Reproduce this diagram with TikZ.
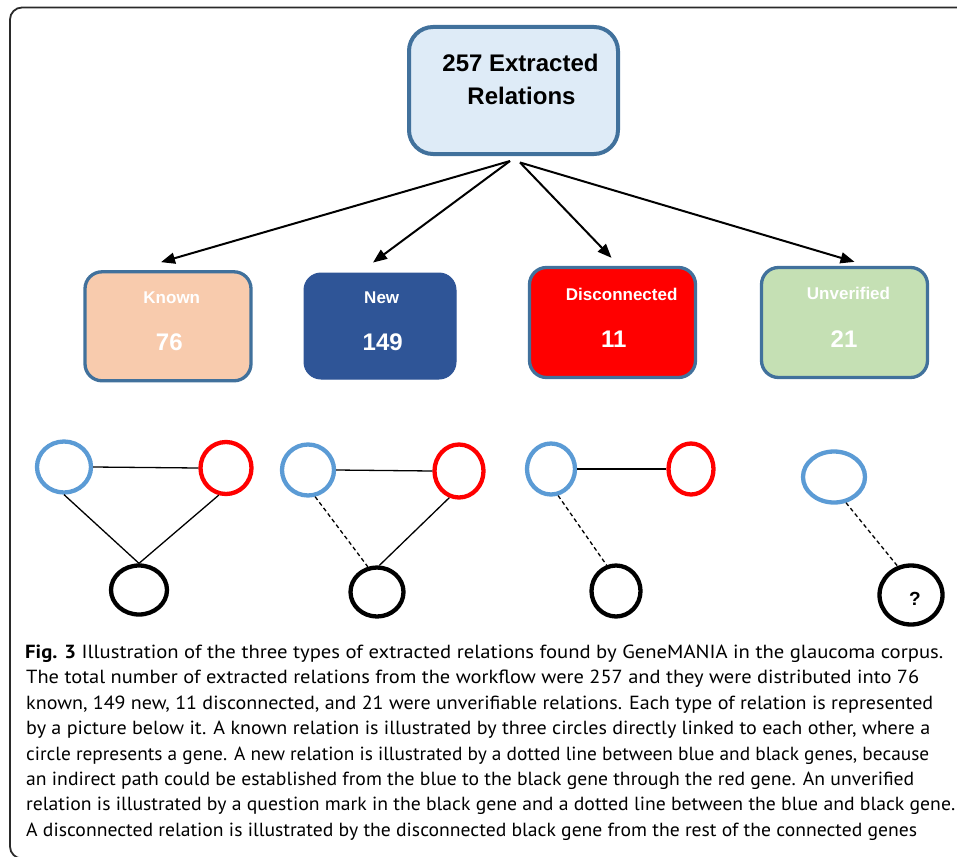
\documentclass[tikz,border=0pt]{standalone}
\usepackage{fontspec}
\setmainfont{Liberation Sans}
\newfontfamily\capfont{PT Sans}
\usetikzlibrary{arrows.meta,shapes.geometric,calc}
\definecolor{boxedge}{HTML}{41719C}
\definecolor{topfill}{HTML}{DEEBF7}
\definecolor{knownfill}{HTML}{F8CBAD}
\definecolor{newfill}{HTML}{2F5597}
\definecolor{unvfill}{HTML}{C5E0B4}
\definecolor{geneblue}{HTML}{5B9BD5}
\definecolor{genered}{HTML}{FF0000}
\definecolor{framecol}{HTML}{2A2A2A}
\tikzset{
  framebox/.style={draw=framecol,line width=1.8pt,rounded corners=12pt},
  bigbox/.style={draw=boxedge,line width=4pt,fill=topfill,rounded corners=24pt,
    minimum width=209pt,minimum height=127pt,inner sep=0pt},
  catbox/.style={draw=boxedge,line width=3.3pt,rounded corners=17pt,
    minimum width=166pt,minimum height=109pt,inner sep=0pt},
  toptext/.style={anchor=base,inner sep=0pt,font=\bfseries\fontsize{24}{28}\selectfont},
  cattext/.style={anchor=base,inner sep=0pt,text=white,font=\bfseries\fontsize{17}{20}\selectfont},
  numtext/.style={anchor=base,inner sep=0pt,text=white,font=\bfseries\fontsize{24}{28}\selectfont},
  arr/.style={line width=2pt,-{Triangle[length=14pt,width=11pt]}},
  gene/.style={ellipse,draw,line width=4.3pt,inner sep=0pt},
  link/.style={line width=1.3pt},
  dlink/.style={line width=1.3pt,dash pattern=on 4pt off 3pt},
  capl/.style={anchor=base west,inner sep=0pt,font=\capfont\fontsize{19}{22}\selectfont},
}
\begin{document}
\begin{tikzpicture}[x=1pt,y=-1pt]
\useasboundingbox (0,0) rectangle (957,856);
\begin{scope}
  \clip (0,0) rectangle (957,856);
  \draw[framebox] (10,7.5) rectangle (990,858.5);
\end{scope}

% top box
\node[bigbox] (top) at (513.5,90.5) {};
\node[toptext] (t1) at (520.5,72) {257 Extracted};
\node[toptext] (t2) at (521.5,105) {Relations};

% category boxes
\node[catbox,fill=knownfill] (known) at (168,326.3) {};
\node[catbox,fill=newfill,draw=newfill,line width=1pt,minimum width=152pt,minimum height=106pt] (new) at (380,326) {};
\node[catbox,fill=genered,minimum height=110pt] (disc) at (612.5,322.5) {};
\node[catbox,fill=unvfill,minimum height=110pt] (unv) at (844.5,322.5) {};

\node[cattext] (knownl) at (171.8,303) {Known};
\node[numtext] (knownn) at (169.3,350.7) {76};
\node[cattext] (newl) at (381.7,303) {New};
\node[numtext] (newn) at (382.7,350.7) {149};
\node[cattext] (discl) at (621.7,300) {Disconnected};
\node[numtext] (discn) at (613.8,347.3) {11};
\node[cattext] (unvl) at (848.5,299.5) {Unverified};
\node[numtext] (unvn) at (844,347) {21};

% arrows
\coordinate (apexL) at (510,161);
\coordinate (apexR) at (520,162.5);
\draw[arr] (apexL) -- ($(known.north)+(-7,-8)$);
\draw[arr] (apexL) -- ($(new.north)+(-7,-10)$);
\draw[arr] (apexR) -- ($(disc.north)+(-1,-8)$);
\draw[arr] (apexR) -- ($(unv.north)+(10,-4)$);

% group 1: known
\node[gene,draw=geneblue,minimum width=54pt,minimum height=51pt] (b1) at (64,467) {};
\node[gene,draw=genered,minimum width=51pt,minimum height=52pt] (r1) at (226,468) {};
\node[gene,draw=black,minimum width=56pt,minimum height=49pt] (k1) at (139,590) {};
\draw[link] (b1.east) -- (r1.west);
\draw[link] (b1.south) -- (k1.north);
\draw[link] (r1.-105) -- (k1.north);

% group 2: new
\node[gene,draw=geneblue,minimum width=52pt,minimum height=51pt] (b2) at (308,470) {};
\node[gene,draw=genered,minimum width=49pt,minimum height=53pt] (r2) at (459,471) {};
\node[gene,draw=black,minimum width=53pt,minimum height=49pt] (k2) at (377,592) {};
\draw[link] (b2.east) -- (r2.west);
\draw[dlink] (b2.-75) -- (k2.110);
\draw[link] (r2.-110) -- (k2.85);

% group 3: disconnected
\node[gene,draw=geneblue,minimum width=48pt,minimum height=51pt] (b3) at (551,469) {};
\node[gene,draw=genered,minimum width=45pt,minimum height=51pt] (r3) at (691,469) {};
\node[gene,draw=black,minimum width=49pt,minimum height=51pt] (k3) at (616,591) {};
\draw[link] (b3.east) -- (r3.west);
\draw[dlink] (b3.-75) -- (k3.110);

% group 4: unverified
\node[gene,draw=geneblue,minimum width=62pt,minimum height=51pt] (b4) at (834,477) {};
\node[gene,draw=black,minimum width=63pt,minimum height=59pt] (k4) at (911,595) {};
\node[anchor=base,inner sep=0pt,font=\bfseries\fontsize{19}{22}\selectfont] (qm) at (915,605) {?};
\draw[dlink] (b4.-65) -- (k4.115);

% caption
\node[capl] (c1) at (25,658.5) {\resizebox{918pt}{\height}{\textbf{Fig. 3} Illustration of the three types of extracted relations found by GeneMANIA in the glaucoma corpus.}};
\node[capl] (c2) at (26,683.9) {\resizebox{893pt}{\height}{The total number of extracted relations from the workflow were 257 and they were distributed into 76}};
\node[capl] (c3) at (26,709.3) {\resizebox{907pt}{\height}{known, 149 new, 11 disconnected, and 21 were unverifiable relations. Each type of relation is represented}};
\node[capl] (c4) at (26,734.7) {\resizebox{904pt}{\height}{by a picture below it. A known relation is illustrated by three circles directly linked to each other, where a}};
\node[capl] (c5) at (26,760.1) {\resizebox{903pt}{\height}{circle represents a gene. A new relation is illustrated by a dotted line between blue and black genes, because}};
\node[capl] (c6) at (26,785.5) {\resizebox{888pt}{\height}{an indirect path could be established from the blue to the black gene through the red gene. An unverified}};
\node[capl] (c7) at (26,810.9) {\resizebox{929pt}{\height}{relation is illustrated by a question mark in the black gene and a dotted line between the blue and black gene.}};
\node[capl] (c8) at (26,836.3) {\resizebox{891pt}{\height}{A disconnected relation is illustrated by the disconnected black gene from the rest of the connected genes}};
\end{tikzpicture}
\end{document}
